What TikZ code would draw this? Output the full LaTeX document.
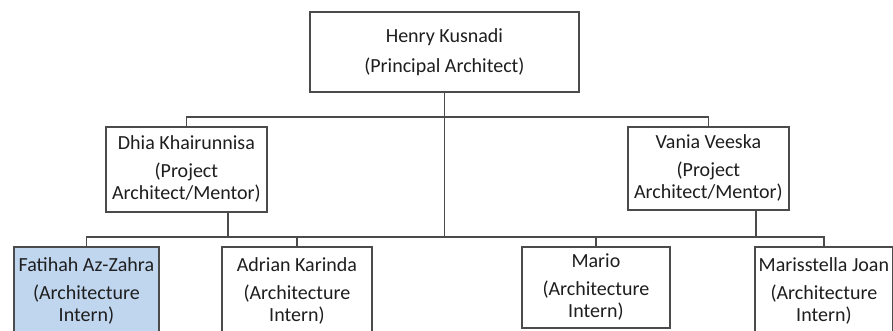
\documentclass[tikz,border=0pt]{standalone}
\usepackage{fontspec}
\setmainfont{Carlito}
\usepackage{xcolor}
\usepackage{tikz}
\definecolor{linegray}{RGB}{75,75,75}
\definecolor{textgray}{RGB}{30,30,30}
\definecolor{internblue}{RGB}{192,213,238}

\begin{document}
\begin{tikzpicture}[
    x=1pt, y=-1pt,
    person/.style={rectangle, draw=linegray, line width=1.8pt, inner sep=1pt, align=center, anchor=north west, text=textgray, font=\fontsize{20}{22}\selectfont},
    link/.style={draw=linegray, line width=1.8pt}
]
\clip (0,0) rectangle (893,331);
\fill[white] (0,0) rectangle (893,331);

\node[person, minimum width=269pt, minimum height=80pt] (henry) at (309,11) {Henry Kusnadi\\[8pt](Principal Architect)};

\node[person, minimum width=161pt, minimum height=85pt] (dhia) at (105,126) {Dhia Khairunnisa\\[6pt](Project\\Architect/Mentor)};
\node[person, minimum width=161pt, minimum height=83pt] (vania) at (627,126) {Vania Veeska\\[6pt](Project\\Architect/Mentor)};

\node[person, fill=internblue, minimum width=145pt, minimum height=88pt] (fatihah) at (13,246) {Fatihah Az-Zahra\\[6pt](Architecture\\Intern)};
\node[person, minimum width=150pt, minimum height=88pt] (adrian) at (221,246) {Adrian Karinda\\[6pt](Architecture\\Intern)};
\node[person, minimum width=148pt, minimum height=81pt] (mario) at (521,246) {Mario\\[6pt](Architecture\\Intern)};
\node[person, minimum width=138pt, minimum height=88pt] (marisstella) at (754,246) {Marisstella Joan\\[6pt](Architecture\\Intern)};

\coordinate (topbus) at (henry.south |- 0,117);
\coordinate (lowbus) at (henry.south |- 0,237);
\coordinate (dhiadrop) at (228,237);
\coordinate (vaniadrop) at (756,237);

\draw[link] (dhia.north) |- (topbus) -| (vania.north);
\draw[link] (henry.south) -- (lowbus);
\draw[link] (fatihah.north) |- (lowbus) -| (marisstella.north);
\draw[link] (adrian.north) -- (adrian.north |- lowbus);
\draw[link] (mario.north) -- (mario.north |- lowbus);
\draw[link] (dhiadrop |- dhia.south) -- (dhiadrop);
\draw[link] (vaniadrop |- vania.south) -- (vaniadrop);
\end{tikzpicture}
\end{document}
